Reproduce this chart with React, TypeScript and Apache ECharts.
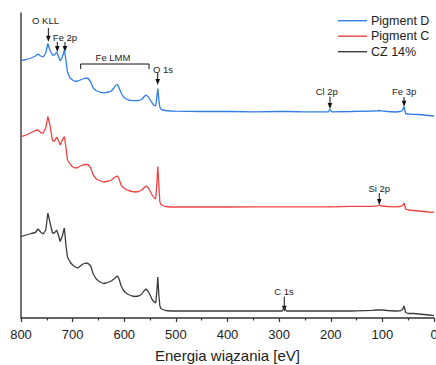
import React, { useEffect, useRef } from "react";
import * as echarts from "echarts";

// Binding energy grid (eV), shared by all spectra
const energies = [800,790,780,772,767,762,757,752,748,744,739,735,731,727,724,720,716,713,710,705,700,695,690,685,680,675,670,665,660,655,650,645,640,635,630,625,620,616,613,610,606,602,598,592,585,578,572,566,562,558,554,550,546,542,539,537,535,533,531,529,526,520,510,500,450,400,350,300,294,290,286,250,205,201.5,198,160,150,120,110,106,102,90,75,65,61,58,55,50,40,30,20,10,0];

// Intensities (arbitrary units, spectra offset vertically)
const pigmentD = [257.3,258.5,260,262,264,262,261,265,274.5,268,263,263,266,261,257,261,268,258,246,240,238,236.5,237,238,239,240,239.5,236,230,227.5,226.5,225.5,225.3,225.5,226,227,230,233,233.5,230,225,221.5,219.5,218,217.3,217.3,217.5,218.5,221,223,221.5,218.5,215,212.5,212,220,229.5,218,211,209,208,207.5,207,206.8,206.5,206.5,206.2,206.5,206.5,206.5,206.5,206.2,206.2,208.5,206.2,206.5,206.7,207,207.2,207.5,207.2,206.5,206,206.5,207.5,211.5,204.5,204,203.7,203.5,203,202.5,202];
const pigmentC = [181.3,183,185.5,187.5,188,185.5,185,190,201.5,193,177.5,177,181,177,173,178,181.5,171,158,154,151,150,150.5,152,153,153.5,153.5,150,143,139.5,138,137,136,136.5,137,138,140,141.5,142,139,133,130.5,129,127.5,126.5,126,126.5,128,130,132,130.5,127,123,120,119,133,151.5,133,116,113.5,112.5,111.5,111,111,111,111,111.2,111.2,111.2,111.2,111.2,111.2,111.2,111.3,111.2,111.7,111.7,111.7,112.2,112.8,112,111.5,111.2,111.5,112.5,115,109,108,107.5,107,106.5,106,105.7];
const cz14 = [81.3,83,84.5,85.5,89,86,84,88,105,96,85,85,88,82,76.5,82,90,73,61,56,53,51,50,52,54,55,54.5,52,44,39.5,37,35.5,34.5,35,36,37,39,41,42,39,32,28,25.5,23.5,22,21.5,22,24,27,29,27,23,18.5,16,15,26,41,23,12,9.5,8.5,7.5,7,7,7,7,7,7,7,10.5,7,7,7,7,7,7,7.2,7.7,8,8,8,7.5,7,7.2,8.5,12,5.5,4.5,4.5,4,3.5,3,2.3];

const seriesNames = ["Pigment D", "Pigment C", "CZ 14%"];
const seriesColors = ["#2f7de6", "#ef4343", "#3c3c3c"];
const xTicks = { min: 0, max: 800, interval: 100 };

// Peak annotations: label text, label position, arrow energy / start / tip
const labelTexts = ["O KLL", "Fe 2p", "Fe LMM", "O 1s", "Cl 2p", "Fe 3p", "Si 2p", "C 1s"];
const labelEnergies = [752.5, 714.8, 621.8, 525, 207.8, 58, 106, 290.6];
const labelLevels = [298, 281, 261, 249, 227, 227, 129.7, 26.3];
const arrowEnergies = [747, 729.7, 714.8, 535.2, 201.5, 58, 106, 290];
const arrowStarts = [290, 276, 276, 245, 221.3, 221, 125, 21.3];
const arrowTips = [276.3, 266, 266, 233, 209, 211.3, 113, 6.3];
// Fe LMM bracket: energy range, level, end-tick level
const bracketRange = [684.4, 552];
const bracketLevel = 254;
const bracketEnd = 249;

const FONT = 'Arial, "Liberation Sans", sans-serif';

export default function App() {
  const ref = useRef<HTMLDivElement>(null);
  useEffect(() => {
    if (!ref.current) return;
    const chart = echarts.init(ref.current, undefined, { renderer: "svg" });
    const datasets = [pigmentD, pigmentC, cz14];
    chart.setOption({
      animation: false,
      backgroundColor: "#ffffff",
      textStyle: { fontFamily: FONT },
      grid: { left: 21, right: 2, top: 13, bottom: 47, containLabel: false, outerBoundsMode: "none" },
      xAxis: {
        type: "value",
        inverse: true,
        min: xTicks.min,
        max: xTicks.max,
        interval: xTicks.interval,
        name: "Energia wiązania [eV]",
        nameLocation: "middle",
        nameGap: 30,
        nameTextStyle: { fontSize: 15, color: "#222", fontFamily: FONT },
        axisLine: { show: true, onZero: false, lineStyle: { color: "#333", width: 1.5 } },
        axisTick: { show: true, inside: false, length: 4, lineStyle: { color: "#333", width: 1.2 } },
        minorTick: { show: true, splitNumber: 2, length: 2.5, lineStyle: { color: "#333", width: 1.2 } },
        axisLabel: { fontSize: 13, color: "#222", margin: 10, fontFamily: FONT, hideOverlap: false },
        splitLine: { show: false },
      },
      yAxis: {
        type: "value",
        min: 0,
        max: 305,
        axisLine: { show: true, onZero: false, lineStyle: { color: "#444", width: 1.5 } },
        axisTick: { show: false },
        axisLabel: { show: false },
        splitLine: { show: false },
      },
      series: seriesNames.map((name, i) => ({
        name,
        type: "line",
        symbol: "none",
        color: seriesColors[i],
        lineStyle: { color: seriesColors[i], width: 1.3 },
        data: energies.map((e, k) => [e, datasets[i][k]]),
      })),
    });

    const px = (e: number, v: number) =>
      chart.convertToPixel({ xAxisIndex: 0, yAxisIndex: 0 }, [e, v]) as number[];
    const graphics: any[] = [];
    labelTexts.forEach((t, i) => {
      const p = px(labelEnergies[i], labelLevels[i]);
      graphics.push({
        type: "text",
        x: p[0],
        y: p[1],
        style: { text: t, fontSize: 9.5, fill: "#222", fontFamily: FONT, align: "center", verticalAlign: "middle" },
      });
    });
    arrowEnergies.forEach((e, i) => {
      const a = px(e, arrowStarts[i]);
      const b = px(e, arrowTips[i]);
      graphics.push({
        type: "line",
        shape: { x1: a[0], y1: a[1], x2: b[0], y2: b[1] - 5 },
        style: { stroke: "#111", lineWidth: 1 },
      });
      graphics.push({
        type: "polygon",
        shape: { points: [[b[0] - 2.3, b[1] - 6], [b[0] + 2.3, b[1] - 6], [b[0], b[1]]] },
        style: { fill: "#111" },
      });
    });
    const b1 = px(bracketRange[0], bracketEnd);
    const b2 = px(bracketRange[0], bracketLevel);
    const b3 = px(bracketRange[1], bracketLevel);
    const b4 = px(bracketRange[1], bracketEnd);
    graphics.push({
      type: "polyline",
      shape: { points: [b1, b2, b3, b4] },
      style: { stroke: "#111", lineWidth: 1, fill: "none" },
    });
    // Legend (line swatches + names)
    seriesNames.forEach((name, i) => {
      const y = 20.7 + i * 15.5;
      graphics.push({
        type: "line",
        shape: { x1: 338, y1: y, x2: 367, y2: y },
        style: { stroke: seriesColors[i], lineWidth: 1.4 },
      });
      graphics.push({
        type: "text",
        x: 371,
        y,
        style: { text: name, fontSize: 12.5, fill: "#222", fontFamily: FONT, align: "left", verticalAlign: "middle" },
      });
    });
    chart.setOption({ graphic: graphics });

    return () => chart.dispose();
  }, []);
  return (
    <div
      ref={ref}
      style={{ position: "fixed", left: 0, top: 0, width: 436, height: 365 }}
    />
  );
}
